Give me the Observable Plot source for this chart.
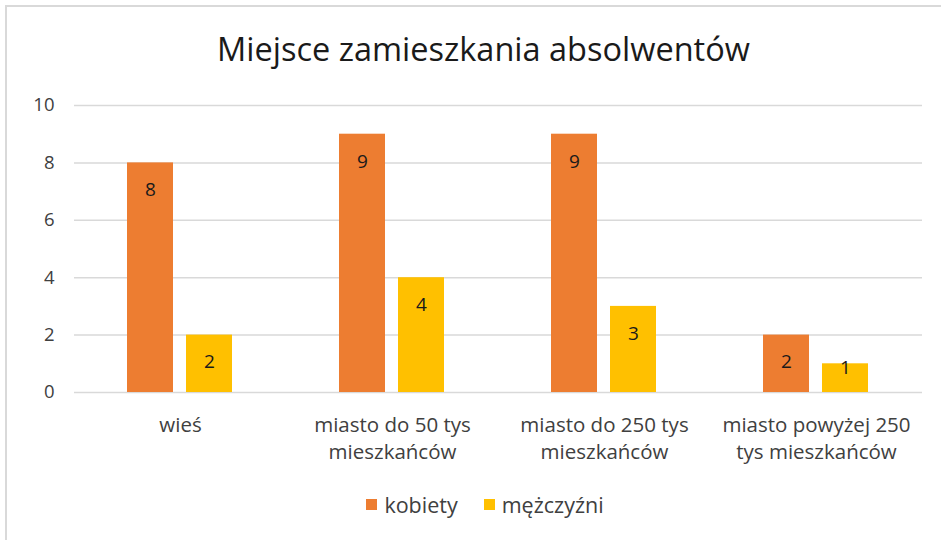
<!DOCTYPE html>
<html>
<head>
<meta charset="utf-8">
<script src="https://cdn.jsdelivr.net/npm/d3@7"></script>
<script src="https://cdn.jsdelivr.net/npm/@observablehq/plot@0.6"></script>
<style>
  html, body { margin: 0; padding: 0; background: #fff; }
  #wrap { position: relative; width: 941px; height: 540px; overflow: hidden; font-family: "Open Sans", sans-serif; }
  #frame { position: absolute; left: 5px; top: 5px; width: 980px; height: 580px; border: 2px solid #d9d9d9; box-sizing: border-box; }
  #title { position: absolute; left: 0; top: 29px; width: 967px; text-align: center; font-size: 32.5px; color: #1a1a1a; line-height: 40px; white-space: nowrap; }
  #chart { position: absolute; left: 0; top: 90px; }
  #legend { position: absolute; left: 0; top: 490px; width: 970px; display: flex; justify-content: center; align-items: center; font-size: 21.5px; color: #404040; }
  .item { display: flex; align-items: center; margin: 0 13px; }
  .sw { width: 11px; height: 11px; margin-right: 7px; }
</style>
</head>
<body>
<div id="wrap">
  <div id="frame"></div>
  <div id="title">Miejsce zamieszkania absolwentów</div>
  <div id="chart"></div>
  <div id="legend"></div>
</div>
<script>
const categories = ["wieś", "miasto do 50 tys mieszkańców", "miasto do 250 tys mieszkańców", "miasto powyżej 250 tys mieszkańców"];
const categoryLabels = ["wieś", "miasto do 50 tys\nmieszkańców", "miasto do 250 tys\nmieszkańców", "miasto powyżej 250\ntys mieszkańców"];
const series = ["kobiety", "mężczyźni"];
const kobiety = [8, 9, 9, 2];
const mezczyzni = [2, 4, 3, 1];
const colors = ["#ED7D31", "#FFC000"];
const yTicks = [0, 2, 4, 6, 8, 10];

const data = categories.flatMap((c, i) => [
  {category: c, series: series[0], value: kobiety[i]},
  {category: c, series: series[1], value: mezczyzni[i]}
]);

const chart = Plot.plot({
  width: 941,
  height: 380,
  marginTop: 15,
  marginBottom: 78,
  marginLeft: 73,
  marginRight: 18,
  style: {fontFamily: "'Open Sans', sans-serif", fontSize: "18px", color: "#404040", background: "transparent", overflow: "visible"},
  fx: {domain: categories, padding: 0, label: null},
  x: {domain: series, paddingInner: 0.217, paddingOuter: 0.879, axis: null},
  y: {domain: [0, 10], axis: null},
  color: {domain: series, range: colors},
  marks: [
    Plot.ruleY(yTicks, {stroke: "#d9d9d9", strokeWidth: 1.5}),
    Plot.barY(data, {fx: "category", x: "series", y: "value", fill: "series"}),
    Plot.text(data, {fx: "category", x: "series", y: d => Math.max(d.value - 0.95, 0.87), text: d => String(d.value), fill: "#1a1a1a", fontSize: 19}),
    Plot.axisY(yTicks, {tickSize: 0, tickPadding: 20, label: null, fontSize: 18.5, fill: "#404040"}),
    Plot.axisFx({anchor: "bottom", tickSize: 0, tickPadding: 20, lineHeight: 1.33, label: null, fontSize: 20.5, fill: "#404040",
      tickFormat: c => categoryLabels[categories.indexOf(c)]})
  ]
});
document.getElementById("chart").appendChild(chart);

const legend = document.getElementById("legend");
series.forEach((s, i) => {
  const it = document.createElement("div");
  it.className = "item";
  const sw = document.createElement("div");
  sw.className = "sw";
  sw.style.background = colors[i];
  const t = document.createElement("span");
  t.textContent = s;
  it.appendChild(sw);
  it.appendChild(t);
  legend.appendChild(it);
});
</script>
</body>
</html>
